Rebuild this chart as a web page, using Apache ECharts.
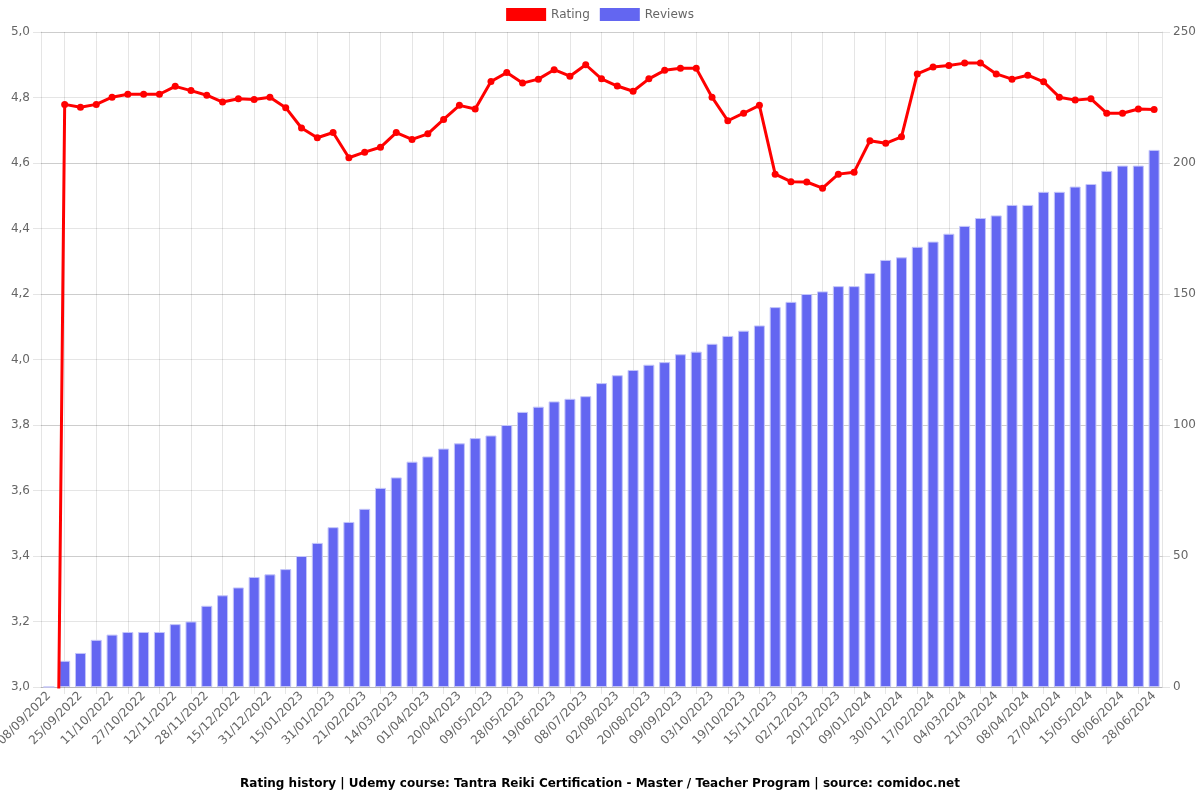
<!DOCTYPE html>
<html>
<head>
<meta charset="utf-8">
<script src="https://cdn.jsdelivr.net/npm/echarts@6/dist/echarts.min.js"></script>
<style>html,body{margin:0;padding:0;background:#fff}#c{width:1200px;height:800px}</style>
</head>
<body>
<div id="c"></div>
<script>
const categories = [
  '08/09/2022','16/09/2022','25/09/2022','03/10/2022','11/10/2022','19/10/2022','27/10/2022','04/11/2022',
  '12/11/2022','20/11/2022','28/11/2022','06/12/2022','15/12/2022','23/12/2022','31/12/2022','07/01/2023',
  '15/01/2023','23/01/2023','31/01/2023','10/02/2023','21/02/2023','03/03/2023','14/03/2023','23/03/2023',
  '01/04/2023','10/04/2023','20/04/2023','29/04/2023','09/05/2023','18/05/2023','28/05/2023','08/06/2023',
  '19/06/2023','28/06/2023','08/07/2023','20/07/2023','02/08/2023','11/08/2023','20/08/2023','30/08/2023',
  '09/09/2023','21/09/2023','03/10/2023','11/10/2023','19/10/2023','01/11/2023','15/11/2023','23/11/2023',
  '02/12/2023','11/12/2023','20/12/2023','30/12/2023','09/01/2024','19/01/2024','30/01/2024','08/02/2024',
  '17/02/2024','25/02/2024','04/03/2024','12/03/2024','21/03/2024','30/03/2024','08/04/2024','17/04/2024',
  '27/04/2024','06/05/2024','15/05/2024','26/05/2024','06/06/2024','17/06/2024','28/06/2024'
];
const rating = [
  0, 4.779, 4.770, 4.779, 4.801, 4.810, 4.810, 4.810, 4.834, 4.821,
  4.807, 4.786, 4.796, 4.794, 4.801, 4.769, 4.707, 4.677, 4.693, 4.616,
  4.633, 4.648, 4.693, 4.672, 4.689, 4.733, 4.776, 4.765, 4.849, 4.876,
  4.844, 4.856, 4.885, 4.865, 4.900, 4.857, 4.835, 4.819, 4.857, 4.883,
  4.889, 4.889, 4.801, 4.729, 4.752, 4.776, 4.566, 4.543, 4.542, 4.523,
  4.566, 4.572, 4.668, 4.660, 4.680, 4.872, 4.893, 4.898, 4.905, 4.905,
  4.872, 4.856, 4.868, 4.848, 4.801, 4.792, 4.796, 4.752, 4.752, 4.765,
  4.763
];
const reviews = [
  0, 10, 13, 18, 20, 21, 21, 21, 24, 25,
  31, 35, 38, 42, 43, 45, 50, 55, 61, 63,
  68, 76, 80, 86, 88, 91, 93, 95, 96, 100,
  105, 107, 109, 110, 111, 116, 119, 121, 123, 124,
  127, 128, 131, 134, 136, 138, 145, 147, 150, 151,
  153, 153, 158, 163, 164, 168, 170, 173, 176, 179,
  180, 184, 184, 189, 189, 191, 192, 197, 199, 199,
  205
];
const ratingTicks = { min: 3, max: 5, interval: 0.2 };
const reviewTicks = { min: 0, max: 250, interval: 50 };
const titleText = 'Rating history | Udemy course: Tantra Reiki Certification - Master / Teacher Program | source: comidoc.net';

// half-step helper axis so grid lines fall between shown labels (odd categories)
const halfSteps = Array.from({ length: categories.length * 2 + 1 }, (_, j) => String(j));

const gridColor = 'rgba(0,0,0,0.1)';
const font = 'DejaVu Sans';

const chart = echarts.init(document.getElementById('c'), null, { renderer: 'canvas' });
chart.setOption({
  animation: false,
  backgroundColor: '#fff',
  textStyle: { fontFamily: font },
  title: {
    text: titleText,
    left: 'center',
    bottom: 5,
    textStyle: { fontFamily: font, fontSize: 12, fontWeight: 'bold', color: '#000' }
  },
  legend: {
    top: 3,
    left: 'center',
    itemWidth: 40,
    itemHeight: 13,
    itemGap: 10,
    textStyle: { fontFamily: font, fontSize: 12, color: '#666' },
    data: [
      { name: 'Rating', icon: 'rect', itemStyle: { color: '#ff0000', borderWidth: 0 } },
      { name: 'Reviews', icon: 'rect', itemStyle: { color: '#6366f1', borderWidth: 0 } }
    ]
  },
  grid: { left: 41, right: 38, top: 32, bottom: 113, containLabel: false, outerBoundsMode: 'none' },
  xAxis: [
    {
      type: 'category',
      data: categories,
      boundaryGap: true,
      axisLine: { show: true, lineStyle: { color: gridColor } },
      axisTick: { show: false },
      splitLine: { show: false },
      axisLabel: {
        interval: 1,
        rotate: 45,
        margin: 7,
        fontFamily: font,
        fontSize: 12,
        color: '#666'
      }
    },
    {
      type: 'category',
      data: halfSteps,
      position: 'bottom',
      boundaryGap: false,
      axisLine: { show: false },
      axisLabel: { show: false },
      axisTick: {
        show: true,
        length: 7,
        interval: (j) => j % 4 === 3,
        lineStyle: { color: gridColor }
      },
      splitLine: {
        show: true,
        interval: (j) => j % 4 === 3,
        lineStyle: { color: gridColor }
      }
    }
  ],
  yAxis: [
    {
      type: 'value',
      position: 'left',
      min: ratingTicks.min,
      max: ratingTicks.max,
      interval: ratingTicks.interval,
      axisLine: { show: true, lineStyle: { color: gridColor } },
      axisTick: { show: true, length: 8, lineStyle: { color: gridColor } },
      splitLine: { show: true, lineStyle: { color: gridColor } },
      axisLabel: {
        margin: 11,
        fontFamily: font,
        fontSize: 12,
        color: '#666',
        formatter: (v) => v.toFixed(1).replace('.', ',')
      }
    },
    {
      type: 'value',
      position: 'right',
      min: reviewTicks.min,
      max: reviewTicks.max,
      interval: reviewTicks.interval,
      axisLine: { show: true, lineStyle: { color: gridColor } },
      axisTick: { show: true, length: 8, lineStyle: { color: gridColor } },
      splitLine: { show: true, lineStyle: { color: gridColor } },
      axisLabel: { margin: 11, fontFamily: font, fontSize: 12, color: '#666' }
    }
  ],
  series: [
    {
      name: 'Rating',
      type: 'line',
      xAxisIndex: 0,
      yAxisIndex: 0,
      data: rating,
      z: 5,
      clip: true,
      symbol: 'circle',
      symbolSize: 7,
      showAllSymbol: true,
      lineStyle: { color: '#ff0000', width: 3 },
      itemStyle: { color: '#ff0000' }
    },
    {
      name: 'Reviews',
      type: 'bar',
      xAxisIndex: 0,
      yAxisIndex: 1,
      data: reviews,
      z: 2,
      barWidth: 11,
      itemStyle: { color: '#6366f1', borderColor: '#c3c5f9', borderWidth: 1 }
    }
  ]
});
</script>
</body>
</html>
